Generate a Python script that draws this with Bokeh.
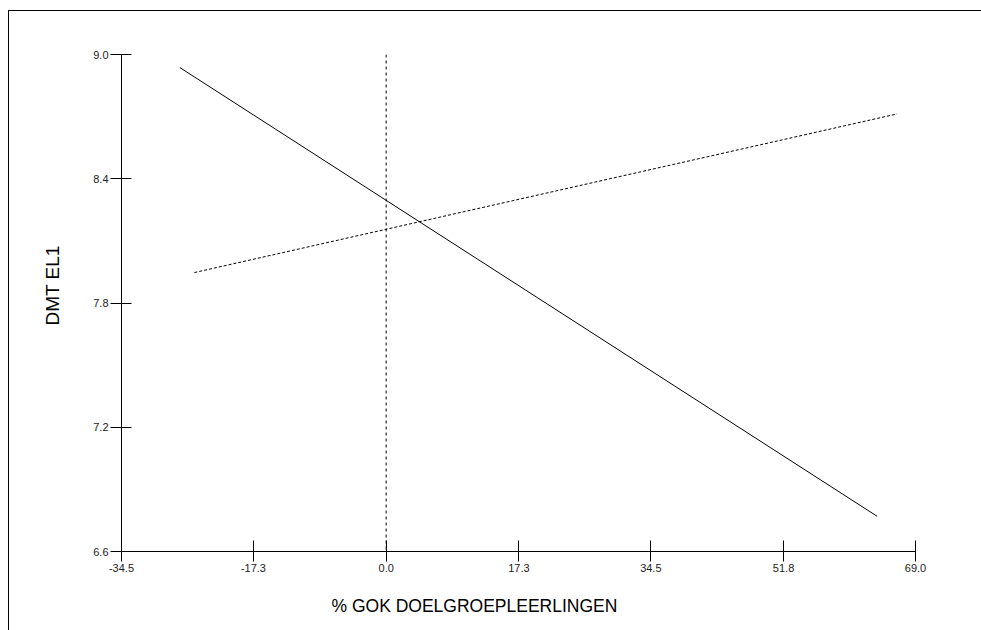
from bokeh.plotting import figure
from bokeh.models import Range1d, FixedTicker, Span, Title
from bokeh.embed import file_html
from bokeh.resources import INLINE

# Axis ticks
x_ticks = [-34.5, -17.3, 0.0, 17.3, 34.5, 51.8, 69.0]
y_ticks = [6.6, 7.2, 7.8, 8.4, 9.0]
x_title = "% GOK DOELGROEPLEERLINGEN"
y_title = "DMT EL1"

# Fitted lines of the two groups (start and end points)
solid_x = [-26.9, 64.0]
solid_y = [8.937, 6.770]
dashed_x = [-25.0, 66.6]
dashed_y = [7.947, 8.713]

# Reference position on the x axis
ref_x = 0.0

FONT = "Liberation Sans"

# The page is a sheet whose right and bottom edges run past the window
p = figure(
    width=1000, height=650,
    x_range=Range1d(x_ticks[0], x_ticks[-1]),
    y_range=Range1d(y_ticks[0], y_ticks[-1]),
    output_backend="svg", toolbar_location=None,
    min_border_left=112, min_border_right=94,
    min_border_top=43, min_border_bottom=110,
    background_fill_color="white", border_fill_color="white",
)
# sheet edge: a thin rule along the top and left sides
p.styles = {
    "position": "absolute", "left": "9px", "top": "11px",
    "box-shadow": "-1px -1px 0 0 #000",
}
p.outline_line_color = None
p.xgrid.visible = False
p.ygrid.visible = False

for ax, ticks in ((p.xaxis[0], x_ticks), (p.yaxis[0], y_ticks)):
    ax.ticker = FixedTicker(ticks=ticks)
    ax.major_label_overrides = {t: f"{t:.1f}" for t in ticks}
    ax.minor_tick_line_color = None
    ax.axis_line_color = "#000"
    ax.major_tick_line_color = "#000"
    ax.major_label_text_font = FONT
    ax.major_label_text_font_size = "11px"
    ax.major_label_text_color = "#222"
    ax.major_label_standoff = 2

p.xaxis.major_tick_in = 11
p.xaxis.major_tick_out = 10
p.yaxis.major_tick_in = 10
p.yaxis.major_tick_out = 11

p.add_layout(Span(location=ref_x, dimension="height", line_color="#000",
                  line_width=1, line_dash="3 3"))

p.line(solid_x, solid_y, line_color="#000", line_width=1)
p.line(dashed_x, dashed_y, line_color="#000", line_width=1, line_dash="3 2")

# Axis titles, set slightly off-centre along their axes
p.add_layout(Title(text=x_title, align="left", offset=210, standoff=38,
                   text_font=FONT, text_font_size="17.5px",
                   text_font_style="normal", text_color="#000"), "below")
p.add_layout(Title(text=y_title, align="left", offset=226, standoff=55,
                   text_font=FONT, text_font_size="19px",
                   text_font_style="normal", text_color="#000"), "left")

open("out.html", "w").write(file_html(p, INLINE))
